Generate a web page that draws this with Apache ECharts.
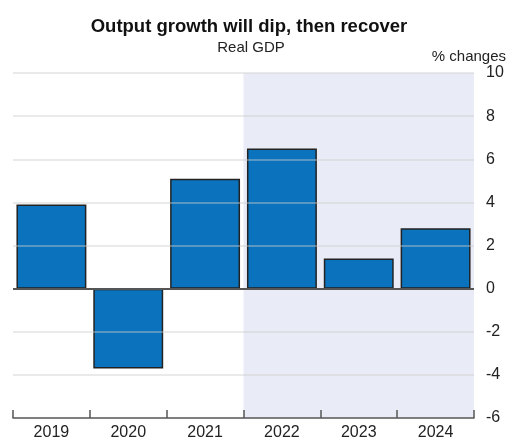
<!DOCTYPE html>
<html>
<head>
<meta charset="utf-8">
<script src="https://cdn.jsdelivr.net/npm/echarts@6/dist/echarts.min.js"></script>
<style>
  html, body { margin: 0; padding: 0; background: #fff; }
  #chart { width: 513px; height: 441px; }
</style>
</head>
<body>
<div id="chart"></div>
<script>
// Real GDP, % changes by year
const years = ['2019', '2020', '2021', '2022', '2023', '2024'];
const gdpGrowth = [3.9, -3.7, 5.1, 6.5, 1.4, 2.8];
// Projection period shading, in category units (start, end)
const projectionSpan = [3, 6];
const yTicks = [-6, -4, -2, 0, 2, 4, 6, 8, 10];

const FONT = 'Liberation Sans, Arial, sans-serif';
const chart = echarts.init(document.getElementById('chart'), null, { renderer: 'canvas' });

// Horizontal gridlines sit above the bars; the zero line is darker
const gridStyle = { color: 'rgba(205,205,205,0.55)', width: 1.5, type: 'solid' };
const zeroStyle = { color: '#555', width: 2, type: 'solid' };
const refLines = yTicks
  .filter(v => v !== yTicks[0])
  .map(v => ({ yAxis: v, lineStyle: v === 0 ? zeroStyle : gridStyle }));

chart.setOption({
  animation: false,
  backgroundColor: '#ffffff',
  title: [
    {
      text: 'Output growth will dip, then recover',
      left: 244, top: 12, textAlign: 'center',
      textStyle: { fontFamily: FONT, fontSize: 18.5, fontWeight: 'bold', color: '#111' }
    },
    {
      text: 'Real GDP',
      left: 246, top: 35, textAlign: 'center',
      textStyle: { fontFamily: FONT, fontSize: 15, fontWeight: 'normal', color: '#222' }
    },
    {
      text: '% changes',
      right: 2, top: 44,
      textStyle: { fontFamily: FONT, fontSize: 15, fontWeight: 'normal', color: '#222' }
    }
  ],
  grid: { left: 13, right: 39, top: 73, bottom: 23 },
  xAxis: [
    {
      type: 'category',
      data: years,
      z: 3,
      boundaryGap: true,
      axisLine: { show: true, onZero: false, lineStyle: { color: '#555', width: 1.5 } },
      axisTick: { show: true, inside: true, length: 8, lineStyle: { color: '#555', width: 1.5 } },
      axisLabel: { margin: 7, fontFamily: FONT, fontSize: 16, color: '#222' },
      splitLine: { show: false }
    },
    {
      type: 'value',
      min: 0, max: years.length,
      show: false
    }
  ],
  yAxis: {
    type: 'value',
    position: 'right',
    min: yTicks[0], max: yTicks[yTicks.length - 1], interval: 2,
    axisLine: { show: false },
    axisTick: { show: false },
    axisLabel: { margin: 12, fontFamily: FONT, fontSize: 16, color: '#222' },
    splitLine: { show: false }
  },
  series: [
    {
      type: 'scatter',
      xAxisIndex: 1,
      data: [],
      z: 1,
      silent: true,
      markArea: {
        silent: true,
        itemStyle: { color: '#e9ecf6' },
        data: [[{ xAxis: projectionSpan[0] }, { xAxis: projectionSpan[1] }]]
      }
    },
    {
      type: 'bar',
      xAxisIndex: 0,
      data: gdpGrowth,
      z: 2,
      barCategoryGap: '9%',
      itemStyle: { color: '#0b73bd', borderColor: '#222', borderWidth: 1.5 },
      markLine: {
        silent: true,
        z: 10,
        symbol: 'none',
        label: { show: false },
        lineStyle: gridStyle,
        data: refLines
      }
    }
  ]
});
</script>
</body>
</html>
